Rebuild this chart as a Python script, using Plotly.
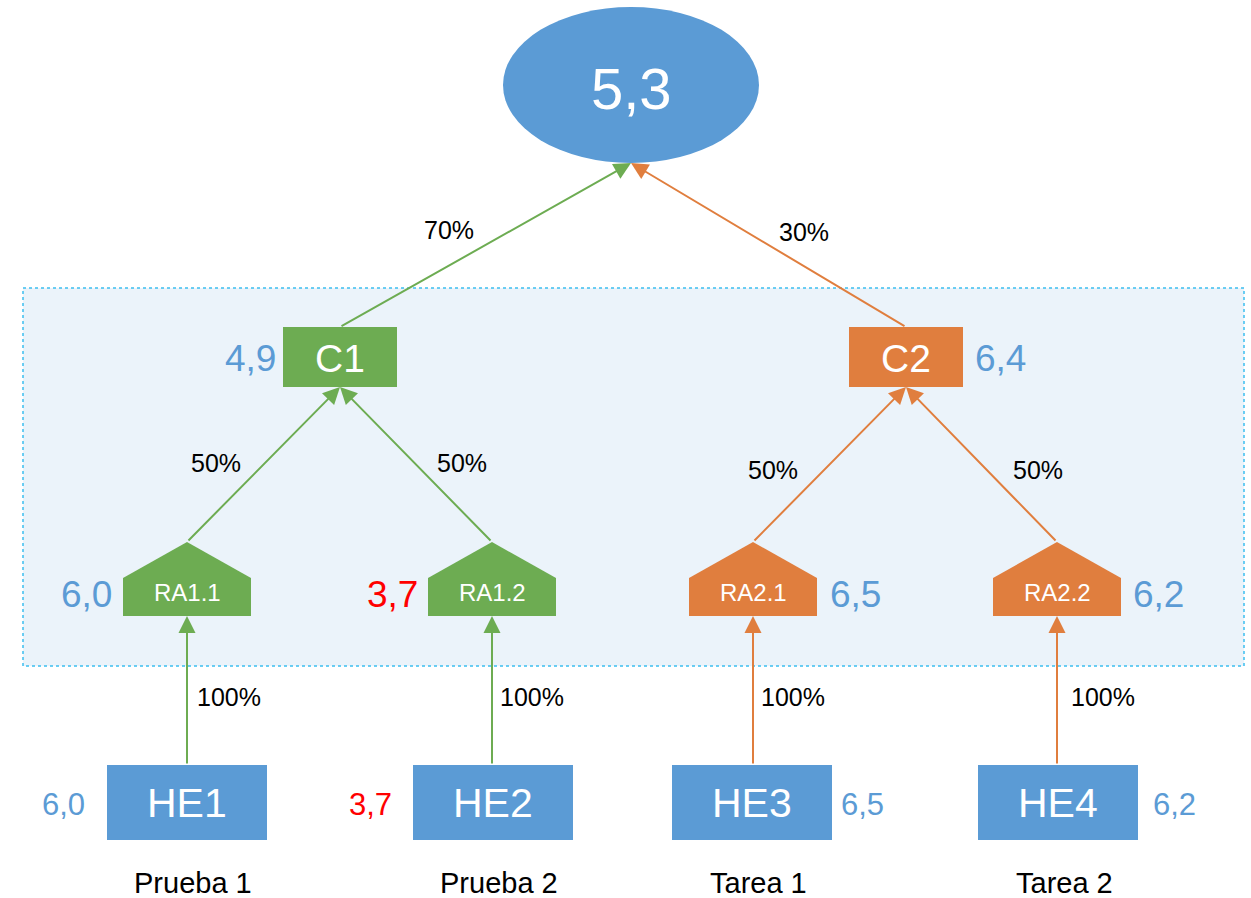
import plotly.graph_objects as go

# ---------------- data ----------------
final_score = 5.3
comp_names = ["C1", "C2"]
comp_scores = [4.9, 6.4]
comp_weights = ["70%", "30%"]

ra_names = ["RA1.1", "RA1.2", "RA2.1", "RA2.2"]
ra_scores = [6.0, 3.7, 6.5, 6.2]
ra_weights = ["50%", "50%", "50%", "50%"]
ra_parent = [0, 0, 1, 1]

he_names = ["HE1", "HE2", "HE3", "HE4"]
he_scores = [6.0, 3.7, 6.5, 6.2]
he_weights = ["100%", "100%", "100%", "100%"]
he_labels = ["Prueba 1", "Prueba 2", "Tarea 1", "Tarea 2"]

# ---------------- style / layout ----------------
W, H = 1251, 898
FONT = "Liberation Sans Narrow, Arial Narrow, Liberation Sans, Arial, sans-serif"
BLUE = "#5B9BD5"
GREEN = "#6DAC52"
ORANGE = "#E07E3E"
RED = "#FF0000"
group_color = [GREEN, ORANGE]


def fmt(v):
    return f"{v:.1f}".replace(".", ",")


def val_color(v):
    return RED if v < 4.0 else BLUE


# positions (pixels, y downward)
ell = dict(x0=503, x1=759, y0=7, y1=163)
ell_cx, ell_bottom = 631, 163
comp_cx = [340, 906]
comp_w, comp_y0, comp_y1 = 114, 327, 387
ra_cx = [187, 492, 753, 1057]
ra_hw, ra_apex, ra_sh, ra_bot = 64, 542, 578, 616
he_cx = [187, 493, 752, 1058]
he_w, he_y0, he_y1 = 160, 765, 840

shapes = []
annotations = []

# background dashed region
shapes.append(dict(type="rect", xref="x", yref="y", x0=23, x1=1244, y0=288, y1=666,
                   fillcolor="#EBF3FA", line=dict(color="#3DBEF0", width=1.5, dash="dot"),
                   layer="below"))

# ellipse
shapes.append(dict(type="circle", xref="x", yref="y", fillcolor=BLUE, line=dict(width=0), **ell))
annotations.append(dict(x=ell_cx, y=88, text=fmt(final_score), showarrow=False,
                        font=dict(family=FONT, size=58, color="white")))


def arrow(x, y, ax, ay, color):
    annotations.append(dict(x=x, y=y, ax=ax, ay=ay, xref="x", yref="y", axref="x", ayref="y",
                            text="", showarrow=True, arrowhead=2, arrowsize=1.7,
                            arrowwidth=2, arrowcolor=color, standoff=0, startstandoff=0))


def label(x, y, text, size, color="black"):
    annotations.append(dict(x=x, y=y, text=text, showarrow=False, xref="x", yref="y",
                            font=dict(family=FONT, size=size, color=color)))


# components
comp_label_pos = [(449, 230), (804, 232)]
comp_val_x = [250, 1000]
for i, name in enumerate(comp_names):
    c = group_color[i]
    cx = comp_cx[i]
    shapes.append(dict(type="rect", xref="x", yref="y", x0=cx - comp_w / 2, x1=cx + comp_w / 2,
                       y0=comp_y0, y1=comp_y1, fillcolor=c, line=dict(width=0)))
    label(cx, 358, name, 39, "white")
    label(comp_val_x[i], 358, fmt(comp_scores[i]), 37, BLUE)
    arrow(ell_cx, ell_bottom, cx, comp_y0, c)
    label(comp_label_pos[i][0], comp_label_pos[i][1], comp_weights[i], 25)

# RA pentagons
ra_val_dx = [-101, -100, 102, 101]
ra_lab_dx = [-48, 46, -57, 56]
ra_lab_y = [463, 463, 470, 470]
for i, name in enumerate(ra_names):
    p = ra_parent[i]
    c = group_color[p]
    cx = ra_cx[i]
    path = (f"M {cx - ra_hw} {ra_bot} L {cx - ra_hw} {ra_sh} L {cx} {ra_apex} "
            f"L {cx + ra_hw} {ra_sh} L {cx + ra_hw} {ra_bot} Z")
    shapes.append(dict(type="path", xref="x", yref="y", path=path, fillcolor=c, line=dict(width=0)))
    label(cx, 592, name, 24, "white")
    label(cx + ra_val_dx[i], 594, fmt(ra_scores[i]), 37, val_color(ra_scores[i]))
    arrow(comp_cx[p], comp_y1, cx, ra_apex, c)
    mx = (comp_cx[p] + cx) / 2
    label(mx + ra_lab_dx[i], ra_lab_y[i], ra_weights[i], 25)

# HE boxes
he_val_x = [63, 370, 862, 1174]
he_lab_dx = [42, 40, 40, 46]
for i, name in enumerate(he_names):
    c = group_color[ra_parent[i]]
    cx = he_cx[i]
    shapes.append(dict(type="rect", xref="x", yref="y", x0=cx - he_w / 2, x1=cx + he_w / 2,
                       y0=he_y0, y1=he_y1, fillcolor=BLUE, line=dict(width=0)))
    label(cx, 803, name, 41, "white")
    label(he_val_x[i], 804, fmt(he_scores[i]), 31, val_color(he_scores[i]))
    arrow(ra_cx[i], ra_bot, ra_cx[i], he_y0, c)
    label(ra_cx[i] + he_lab_dx[i], 697, he_weights[i], 25)
    label(cx + 6, 883, he_labels[i], 29)

fig = go.Figure()
fig.update_layout(
    width=W, height=H,
    margin=dict(l=0, r=0, t=0, b=0),
    paper_bgcolor="white", plot_bgcolor="white",
    xaxis=dict(range=[0, W], visible=False, fixedrange=True),
    yaxis=dict(range=[H, 0], visible=False, fixedrange=True),
    shapes=shapes, annotations=annotations, showlegend=False,
)
fig.write_html(
    "out.html",
    config={"displayModeBar": False},
    post_script="document.body.style.margin='0';document.body.style.overflow='hidden';",
)
